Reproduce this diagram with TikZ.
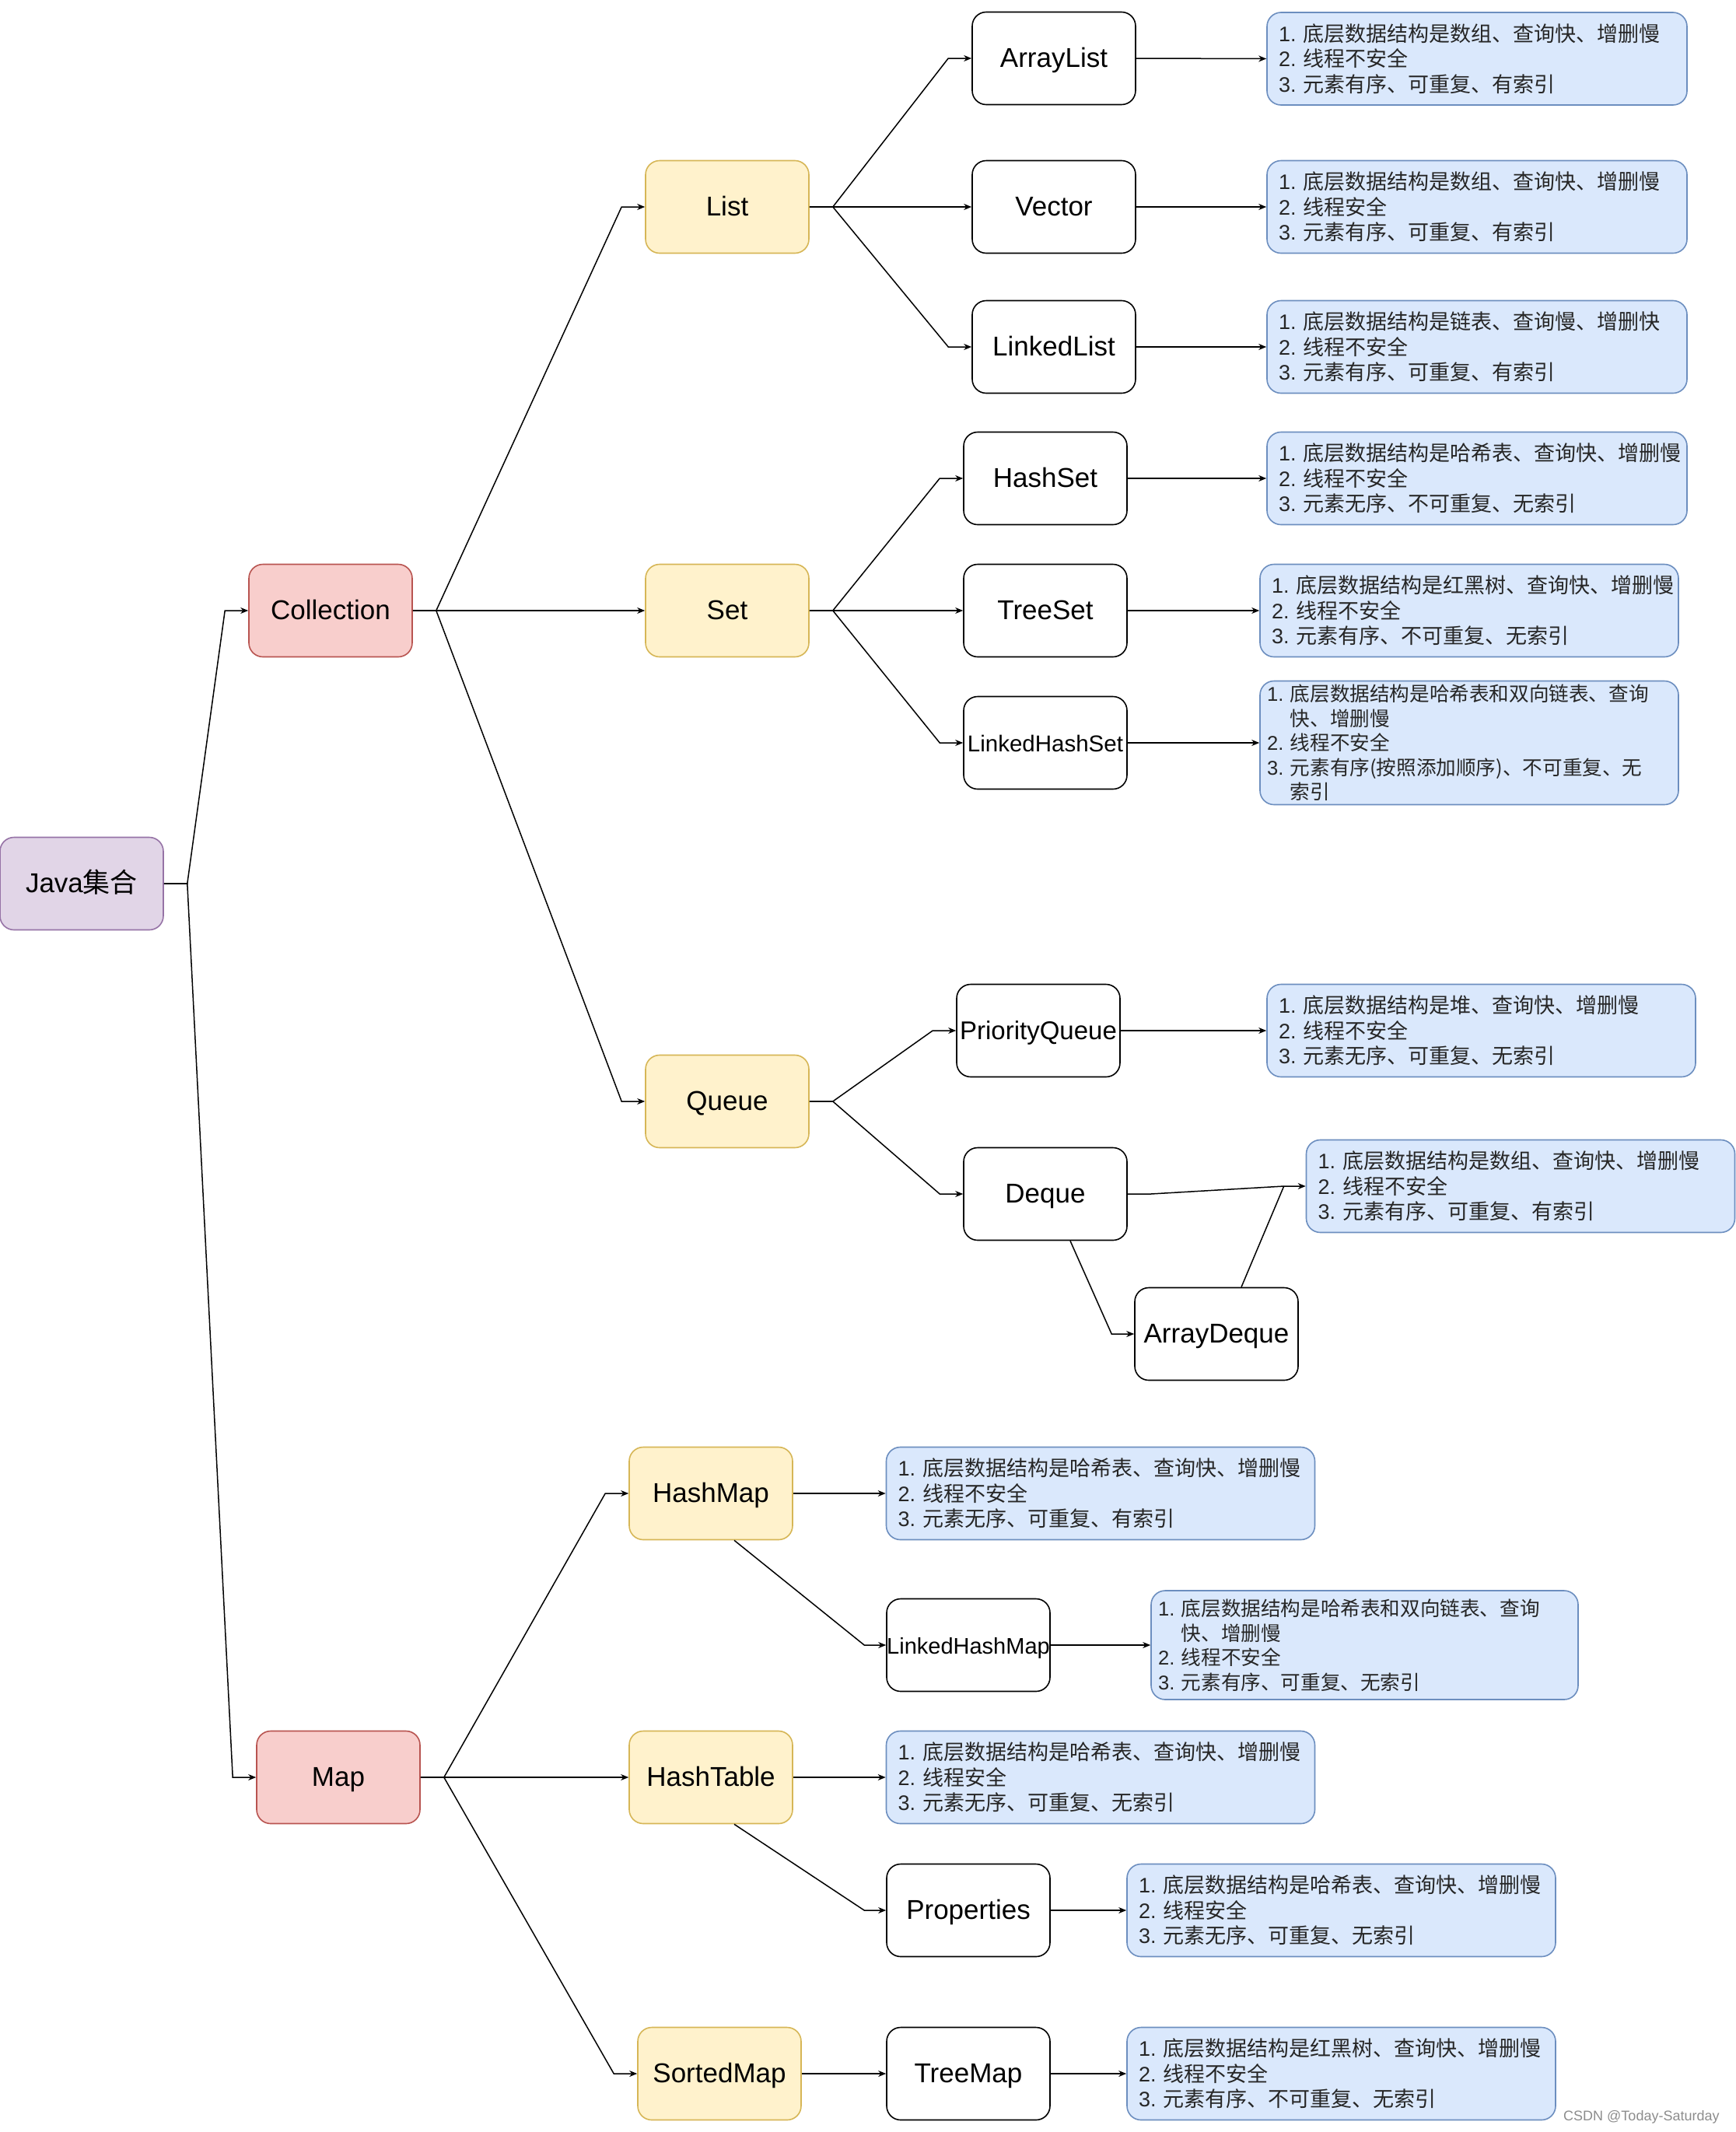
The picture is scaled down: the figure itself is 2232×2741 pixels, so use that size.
\documentclass[tikz,border=0pt]{standalone}
\usepackage{fontspec}
\setmainfont{Liberation Sans}
\newfontfamily\cjk{Noto Sans CJK SC}
\usetikzlibrary{arrows.meta,calc}
\definecolor{purpleF}{HTML}{E1D5E7}\definecolor{purpleD}{HTML}{9673A6}
\definecolor{redF}{HTML}{F8CECC}\definecolor{redD}{HTML}{B85450}
\definecolor{yelF}{HTML}{FFF2CC}\definecolor{yelD}{HTML}{D6B656}
\definecolor{blueF}{HTML}{DAE8FC}\definecolor{blueD}{HTML}{6C8EBF}
\newcommand\mconn[2]{\draw[conn] (#1.east) -- ++(30,0) -- ($(#2.west)+(-30,0)$) -- (#2.west);}
\newcommand\sconn[2]{\draw[conn] (#1.east) -- (#2.west);}
\newcommand\itm[1]{{\rmfamily #1.\ }}
\newcommand\ph{\hphantom{\itm{1}}}
\begin{document}
\begin{tikzpicture}[x=1pt,y=-1pt,
  box/.style={draw, rounded corners=18pt, minimum width=210pt, minimum height=119pt, line width=1.6pt, font=\fontsize{35}{42}\selectfont, inner sep=0pt, text height=30pt, text depth=7pt},
  root/.style={box, fill=purpleF, draw=purpleD},
  lone/.style={box, fill=redF, draw=redD},
  ltwo/.style={box, fill=yelF, draw=yelD},
  lthree/.style={box, fill=white, draw=black},
  desc/.style={draw=blueD, fill=blueF, rounded corners=18pt, line width=1.6pt, minimum height=119pt, inner xsep=15pt, inner ysep=0pt, align=left, text width=510pt, font=\cjk\fontsize{27}{32.5}\selectfont, text=black!85},
  descw/.style={desc, text width=521pt},
  descs/.style={desc, inner xsep=9pt, font=\cjk\fontsize{25.6}{31.5}\selectfont},
  conn/.style={line width=1.5pt, -{Stealth[length=10pt,width=8pt]}},
  plain/.style={line width=1.5pt}]
\useasboundingbox (0,0) rectangle (2232,2741);
% level 0
\node[root] (java) at (105,1136) {Java{\cjk 集合}};
% level 1
\node[lone] (coll) at (425,785) {Collection};
\node[lone] (map) at (435,2285) {Map};
% level 2
\node[ltwo] (list) at (935,266) {List};
\node[ltwo] (set) at (935,785) {Set};
\node[ltwo] (queue) at (935,1416) {Queue};
\node[ltwo] (hashmap) at (914,1920) {HashMap};
\node[ltwo] (hashtable) at (914,2285) {HashTable};
\node[ltwo] (sortedmap) at (925,2666) {SortedMap};
% level 3
\node[lthree] (arraylist) at (1355,75) {ArrayList};
\node[lthree] (vector) at (1355,266) {Vector};
\node[lthree] (linkedlist) at (1355,446) {LinkedList};
\node[lthree] (hashset) at (1344,615) {HashSet};
\node[lthree] (treeset) at (1344,785) {TreeSet};
\node[lthree, font=\fontsize{29.5}{34}\selectfont] (lhs) at (1344,955) {LinkedHashSet};
\node[lthree, font=\fontsize{33}{40}\selectfont] (pq) at (1335,1325) {PriorityQueue};
\node[lthree] (deque) at (1344,1535) {Deque};
\node[lthree] (ad) at (1564,1715) {ArrayDeque};
\node[lthree, font=\fontsize{29}{34}\selectfont] (lhm) at (1245,2115) {LinkedHashMap};
\node[lthree] (prop) at (1245,2456) {Properties};
\node[lthree] (treemap) at (1245,2666) {TreeMap};
% descriptions
\node[desc] (d1) at (1899,75.5) {\itm1底层数据结构是数组、查询快、增删慢\\\itm2线程不安全\\\itm3元素有序、可重复、有索引};
\node[desc] (d2) at (1899,266) {\itm1底层数据结构是数组、查询快、增删慢\\\itm2线程安全\\\itm3元素有序、可重复、有索引};
\node[desc] (d3) at (1899,446) {\itm1底层数据结构是链表、查询慢、增删快\\\itm2线程不安全\\\itm3元素有序、可重复、有索引};
\node[desc] (d4) at (1899,615) {\itm1底层数据结构是哈希表、查询快、增删慢\\\itm2线程不安全\\\itm3元素无序、不可重复、无索引};
\node[desc, text width=508pt] (d5) at (1889,785) {\itm1底层数据结构是红黑树、查询快、增删慢\\\itm2线程不安全\\\itm3元素有序、不可重复、无索引};
\node[descs, text width=520pt, minimum height=159pt] (d6) at (1889,955) {\itm1底层数据结构是哈希表和双向链表、查询\\\ph 快、增删慢\\\itm2线程不安全\\\itm3元素有序(按照添加顺序)、不可重复、无\\\ph 索引};
\node[descw] (d7) at (1904.5,1325) {\itm1底层数据结构是堆、查询快、增删慢\\\itm2线程不安全\\\itm3元素无序、可重复、无索引};
\node[descw] (d8) at (1955,1525) {\itm1底层数据结构是数组、查询快、增删慢\\\itm2线程不安全\\\itm3元素有序、可重复、有索引};
\node[descw] (d9) at (1415,1920) {\itm1底层数据结构是哈希表、查询快、增删慢\\\itm2线程不安全\\\itm3元素无序、可重复、有索引};
\node[descs, text width=531pt, minimum height=140pt] (d10) at (1754.5,2115) {\itm1底层数据结构是哈希表和双向链表、查询\\\ph 快、增删慢\\\itm2线程不安全\\\itm3元素有序、可重复、无索引};
\node[descw] (d11) at (1415,2285) {\itm1底层数据结构是哈希表、查询快、增删慢\\\itm2线程安全\\\itm3元素无序、可重复、无索引};
\node[descw] (d12) at (1724.5,2456) {\itm1底层数据结构是哈希表、查询快、增删慢\\\itm2线程安全\\\itm3元素无序、可重复、无索引};
\node[descw] (d13) at (1724.5,2666) {\itm1底层数据结构是红黑树、查询快、增删慢\\\itm2线程不安全\\\itm3元素有序、不可重复、无索引};
% tree connectors
\mconn{java}{coll}
\mconn{java}{map}
\mconn{coll}{list}
\mconn{coll}{set}
\mconn{coll}{queue}
\mconn{list}{arraylist}
\mconn{list}{vector}
\mconn{list}{linkedlist}
\mconn{set}{hashset}
\mconn{set}{treeset}
\mconn{set}{lhs}
\mconn{queue}{pq}
\mconn{queue}{deque}
\mconn{map}{hashmap}
\mconn{map}{hashtable}
\mconn{map}{sortedmap}
\sconn{sortedmap}{treemap}
% to descriptions
\sconn{arraylist}{d1}
\sconn{vector}{d2}
\sconn{linkedlist}{d3}
\sconn{hashset}{d4}
\sconn{treeset}{d5}
\sconn{lhs}{d6}
\sconn{pq}{d7}
\sconn{hashmap}{d9}
\sconn{lhm}{d10}
\sconn{hashtable}{d11}
\sconn{prop}{d12}
\sconn{treemap}{d13}
% special connectors
\coordinate (jd) at ($(d8.west)+(-28,0)$);
\draw[conn] (deque.east) -- ++(30,0) -- (jd) -- (d8.west);
\draw[plain] ($(ad.north)+(32,0)$) -- (jd);
\draw[conn] ($(deque.south)+(32,0)$) -- ($(ad.west)+(-29,0)$) -- (ad.west);
\draw[conn] ($(hashmap.south)+(30,0)$) -- ($(lhm.west)+(-28,0)$) -- (lhm.west);
\draw[conn] ($(hashtable.south)+(30,0)$) -- ($(prop.west)+(-28,0)$) -- (prop.west);
% watermark
\node[text=black!45, font=\fontsize{18}{20}\selectfont, anchor=west, inner sep=0pt] (wm) at (2010,2722) {CSDN @Today-Saturday};
\end{tikzpicture}
\end{document}
